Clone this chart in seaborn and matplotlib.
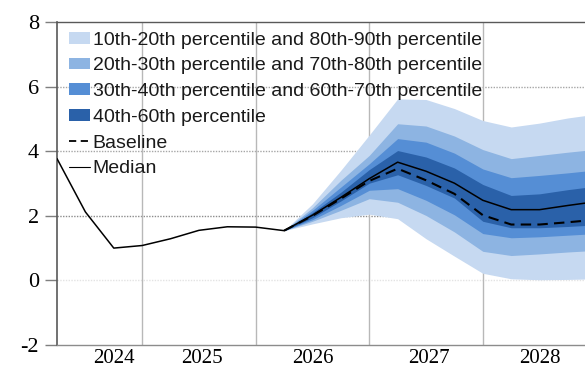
import numpy as np
import pandas as pd
import matplotlib
matplotlib.use("Agg")
import matplotlib.pyplot as plt
import seaborn as sns
from matplotlib.patches import Patch
from matplotlib.lines import Line2D

# quarterly index, 0 = first quarter shown
history = [3.77, 2.12, 1.00, 1.08, 1.29, 1.55, 1.66, 1.65, 1.54]

# forecast quarters (start at last observed quarter, index 8)
p10 = [1.54, 1.75, 1.94, 2.05, 1.91, 1.29, 0.75, 0.22, 0.05, 0.02, 0.03, 0.05]
p20 = [1.54, 1.83, 2.17, 2.53, 2.42, 2.01, 1.50, 0.90, 0.77, 0.82, 0.88, 0.93]
p30 = [1.54, 1.88, 2.32, 2.79, 2.84, 2.48, 2.03, 1.45, 1.32, 1.35, 1.40, 1.45]
p40 = [1.54, 1.94, 2.46, 3.01, 3.27, 2.94, 2.55, 1.83, 1.63, 1.63, 1.67, 1.72]
median = [1.54, 2.02, 2.57, 3.15, 3.66, 3.38, 3.01, 2.48, 2.19, 2.19, 2.32, 2.44]
p60 = [1.54, 2.10, 2.73, 3.43, 4.02, 3.82, 3.48, 2.97, 2.63, 2.68, 2.81, 2.92]
p70 = [1.54, 2.17, 2.89, 3.61, 4.39, 4.28, 3.94, 3.45, 3.18, 3.25, 3.33, 3.42]
p80 = [1.54, 2.25, 3.10, 3.87, 4.85, 4.78, 4.47, 4.05, 3.77, 3.87, 3.97, 4.06]
p90 = [1.54, 2.37, 3.41, 4.50, 5.62, 5.60, 5.32, 4.95, 4.75, 4.87, 5.03, 5.15]
baseline = [1.54, 2.00, 2.53, 3.08, 3.46, 3.10, 2.68, 2.02, 1.73, 1.73, 1.80, 1.88]

year_labels = ["2024", "2025", "2026", "2027", "2028"]
year_label_pos = [2.0, 5.1, 9.0, 13.1, 17.0]
year_breaks = [3, 7, 11, 15]

band_labels = ["10th-20th percentile and 80th-90th percentile",
               "20th-30th percentile and 70th-80th percentile",
               "30th-40th percentile and 60th-70th percentile",
               "40th-60th percentile"]
band_colors = ["#c6d9f1", "#8db4e2", "#558ed5", "#2a61a9"]

hist_df = pd.DataFrame({"q": np.arange(len(history)), "value": history})
fc_q = np.arange(len(history) - 1, len(history) - 1 + len(median))
fc_df = pd.DataFrame({"q": fc_q, "median": median, "baseline": baseline,
                      "p10": p10, "p20": p20, "p30": p30, "p40": p40,
                      "p60": p60, "p70": p70, "p80": p80, "p90": p90})
med_df = pd.concat([hist_df, fc_df[["q", "median"]].rename(columns={"median": "value"}).iloc[1:]])

sns.set_theme(style="white")
plt.rcParams["font.family"] = ["Liberation Sans", "DejaVu Sans"]

fig = plt.figure(figsize=(5.85, 3.67), dpi=100)
ax = fig.add_axes([57 / 585, 1 - 345 / 367, 1 - 57 / 585, (345 - 22) / 367])

# fan bands, outer to inner
pairs = [("p10", "p90"), ("p20", "p80"), ("p30", "p70"), ("p40", "p60")]
for (lo, hi), col in zip(pairs, band_colors):
    ax.fill_between(fc_df["q"], fc_df[lo], fc_df[hi], color=col, lw=0, zorder=2)

sns.lineplot(data=med_df, x="q", y="value", ax=ax, color="black", lw=1.1, zorder=4)
sns.lineplot(data=fc_df, x="q", y="baseline", ax=ax, color="black", lw=1.5,
             dashes=False, linestyle=(0, (5, 3)), zorder=4)

ax.set_xlim(0, 18.6)
ax.set_ylim(-2, 8)
ax.set_yticks([-2, 0, 2, 4, 6, 8])
ax.set_yticklabels(["-2", "0", "2", "4", "6", "8"])
ax.set_xticks(year_label_pos)
ax.set_xticklabels(year_labels)
ax.set_xlabel("")
ax.set_ylabel("")

for lab in ax.get_yticklabels():
    lab.set_family(["Liberation Serif", "DejaVu Serif"])
    lab.set_fontsize(16)
    lab.set_color("black")
for lab in ax.get_xticklabels():
    lab.set_family(["Liberation Serif", "DejaVu Serif"])
    lab.set_fontsize(15)
    lab.set_color("black")
ax.tick_params(axis="x", length=0, pad=3)
ax.tick_params(axis="y", length=9, width=1, color="#7f7f7f", left=True, pad=4)

# grid
for yv, c in [(6, "#a6a6a6"), (4, "#a6a6a6"), (2, "#8c8c8c"), (0, "#e3e3e3")]:
    ax.axhline(yv, color=c, lw=1, ls=(0, (1, 1)), zorder=1)
for xv in year_breaks:
    ax.axvline(xv, color="#b8b8b8", lw=1, zorder=1)

ax.spines["right"].set_visible(False)
ax.spines["top"].set_color("#595959")
ax.spines["top"].set_linewidth(1)
ax.spines["left"].set_color("#595959")
ax.spines["left"].set_linewidth(1.2)
ax.spines["bottom"].set_color("#8c8c8c")
ax.spines["bottom"].set_linewidth(1)

handles = [Patch(facecolor=c, edgecolor="none") for c in band_colors]
handles += [Line2D([], [], color="black", lw=1.3, linestyle=(0, (4, 2.5))),
            Line2D([], [], color="black", lw=0.8)]
labels = band_labels + ["Baseline", "Median"]
leg = ax.legend(handles, labels, loc="upper left", bbox_to_anchor=(0.0, 1.006),
                frameon=False, fontsize=14, handlelength=1.08, handleheight=0.55,
                handletextpad=0.15, labelspacing=0.45, borderaxespad=0.2)
for t in leg.get_texts():
    t.set_color("#1a1a1a")

fig.savefig("out.png", dpi=100)
